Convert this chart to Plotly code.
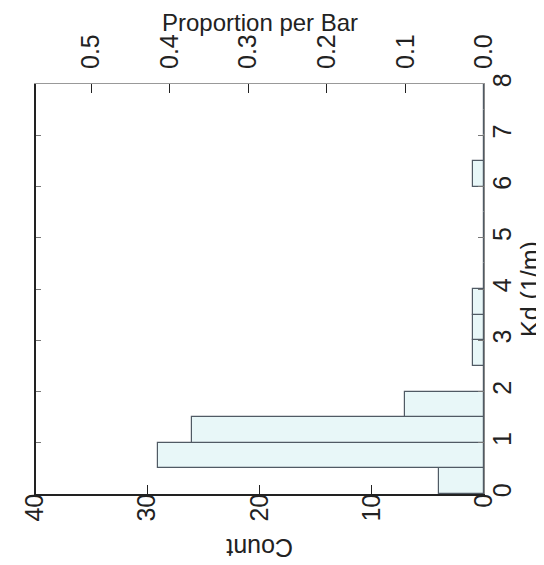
import plotly.graph_objects as go

# Histogram of Kd (1/m), bins of width 0.5
bin_left = [0.0, 0.5, 1.0, 1.5, 2.0, 2.5, 3.0, 3.5, 4.0, 4.5, 5.0, 5.5, 6.0, 6.5, 7.0, 7.5]
counts   = [4,   29,  26,  7,   0,   1,   1,   1,   0,   0,   0,   0,   1,   0,   0,   0]
bin_width = 0.5
count_ticks = [0, 10, 20, 30, 40]
kd_ticks = [0, 1, 2, 3, 4, 5, 6, 7, 8]
prop_ticks = [0.0, 0.1, 0.2, 0.3, 0.4, 0.5]

total = sum(counts)
centers = [b + bin_width / 2 for b in bin_left]
props = [c / total for c in counts]
count_max = 40

font_fam = "Liberation Sans, Arial, sans-serif"
ink = "#222222"
tick_size = 25
title_size = 25

fig = go.Figure()
fig.add_trace(go.Bar(
    y=centers, x=counts, orientation="h", width=bin_width,
    marker=dict(color="#e8f7f8", line=dict(color="#505a64", width=1.2)),
    xaxis="x", yaxis="y", showlegend=False,
))
fig.add_trace(go.Scatter(
    y=centers, x=props, mode="markers", marker=dict(opacity=0),
    xaxis="x2", yaxis="y", showlegend=False, hoverinfo="skip",
))

fig.update_layout(
    width=544, height=565,
    margin=dict(l=24, r=68, t=76, b=79),
    paper_bgcolor="white", plot_bgcolor="white",
    font=dict(family=font_fam, size=tick_size, color=ink),
    bargap=0,
    xaxis=dict(
        range=[count_max, 0], tickvals=count_ticks, tickangle=-90,
        ticks="inside", ticklen=9, tickcolor=ink,
        showline=True, linecolor=ink, linewidth=1.5,
        showgrid=False, zeroline=False,
        tickfont=dict(size=tick_size), ticklabelstandoff=-12,
    ),
    xaxis2=dict(
        overlaying="x", side="top", anchor="y",
        range=[count_max / total, 0], tickvals=prop_ticks,
        ticktext=[f"{v:.1f}" for v in prop_ticks], tickangle=-90,
        ticks="inside", ticklen=9, tickcolor=ink,
        showline=True, linecolor="#999999", linewidth=1,
        showgrid=False, zeroline=False,
        tickfont=dict(size=tick_size), ticklabelstandoff=9,
    ),
    yaxis=dict(
        range=[0, 8], tickvals=kd_ticks, side="right", tickangle=-90,
        ticks="inside", ticklen=6, tickcolor="#777777",
        showline=True, linecolor="#888888", linewidth=1, mirror="ticks",
        showgrid=False, zeroline=False,
        tickfont=dict(size=tick_size), ticklabelstandoff=-4,
        title=dict(text="Kd (1/m)", font=dict(size=title_size, color=ink), standoff=4),
        automargin=False,
    ),
    shapes=[dict(type="line", xref="paper", yref="paper", x0=0, x1=0, y0=0, y1=1,
                 line=dict(color=ink, width=2))],
    annotations=[
        dict(text="Count", textangle=180, xref="paper", yref="paper",
             x=0.5, y=-0.132, yanchor="middle", showarrow=False,
             font=dict(size=title_size, color=ink)),
        dict(text="Proportion per Bar", xref="paper", yref="paper",
             x=0.5, y=1.15, yanchor="middle", showarrow=False,
             font=dict(size=24, color=ink)),
    ],
)

fig.write_html("out.html")
